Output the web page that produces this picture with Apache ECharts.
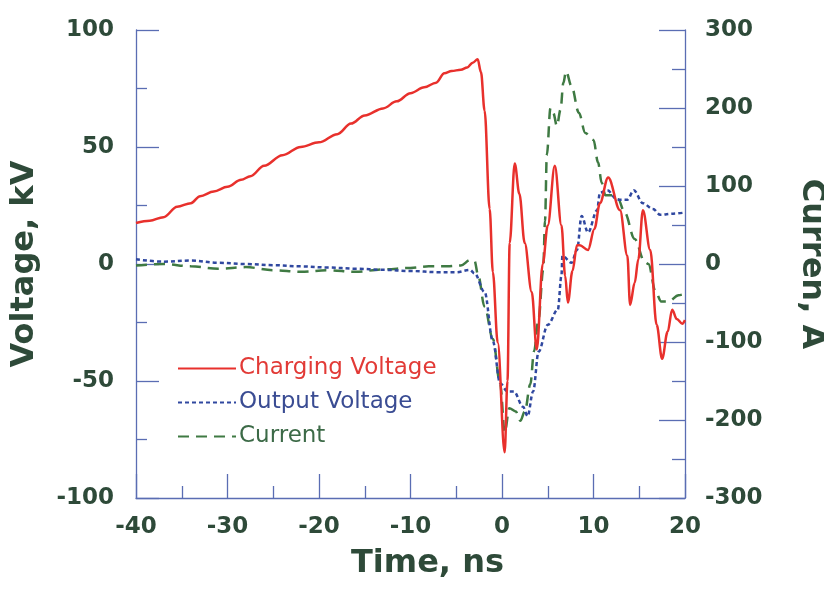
<!DOCTYPE html>
<html>
<head>
<meta charset="utf-8">
<title>Charging voltage, output voltage and current</title>
<script src="https://cdn.jsdelivr.net/npm/echarts@6/dist/echarts.min.js"></script>
<style>
  html, body { margin: 0; padding: 0; background: #ffffff; overflow: hidden; }
  #chart { width: 824px; height: 593px; }
</style>
</head>
<body>
<div id="chart"></div>
<script>
// Time axis ticks (ns) and the two value axes
const timeTicks = [-40, -30, -20, -10, 0, 10, 20];
const voltageTicks = [-100, -50, 0, 50, 100];
const currentTicks = [-300, -200, -100, 0, 100, 200, 300];

// Charging voltage, kV
const chargingTime = [-40, -38.5, -37, -35.5, -34, -33, -31.5, -30, -28.5, -27.5, -26, -24, -22, -20, -18, -16.5, -15, -13, -11.5, -10,
  -8.5, -7.2, -6.3, -5.5, -4.5, -3.8, -3.2, -2.66, -2.3, -1.9, -1.35, -1.0, -0.47, 0.29, 0.6, 0.84, 1.39, 1.9, 2.48, 3.25,
  3.8, 4.45, 5.0, 5.77, 6.5, 6.9, 7.2, 7.7, 8.2, 8.5, 9.4, 10.1, 10.7, 11.6, 12.9, 13.7, 14.0, 14.5, 14.9, 15.4,
  16.2, 16.9, 17.5, 18.1, 18.6, 19.1, 19.7, 20];
const chargingVoltage = [17.5, 18.5, 20, 24.5, 26, 29, 31, 33, 36, 37.5, 42, 46.5, 50, 52, 55.5, 60, 63.5, 66.5, 69.5, 73,
  75.5, 77.5, 81.5, 82.5, 83, 84, 86, 87.5, 82, 65.5, 23.5, -3.5, -33.5, -80.5, -50, 9, 43, 30, 9, -12,
  -36.5, 0, 16.5, 42, 16.5, -5, -16.5, -3, 8, 8, 6, 15, 26, 37, 23, 3.5, -17.5, -8, 2, 23,
  6, -26, -40.5, -29, -19.5, -23.5, -25.5, -24];

// Output voltage, kV
const outputTime = [-40, -37, -34, -31, -28, -25, -22, -19, -16, -13, -10, -7, -5, -3.5, -3.0, -1.9, -1.0, -0.2, 0.6, 1.3,
  2.3, 2.8, 3.4, 4.0, 5.0, 6.1, 6.5, 6.6, 7.6, 8.2, 8.7, 9.4, 10.4, 10.7, 11.5, 12.6, 13.7, 14.4, 15.4, 16.5,
  17.3, 18.7, 20];
const outputVoltage = [2, 1, 1.5, 0.5, 0, -0.5, -1, -1.5, -2, -2.5, -3, -3.5, -3.5, -2.5, -4, -12, -33, -51, -54.5, -54.5,
  -61, -65, -54.5, -37.5, -26, -19.5, -5, 3.5, 0.5, 6, 20.5, 13.5, 23, 30.5, 31.5, 27.5, 27.5, 31.5, 26, 23.5,
  21, 21.5, 22];

// Current, A
const currentTime = [-40, -37, -34, -31, -28, -25, -22, -19, -16, -13, -10, -8, -6, -4.5, -3.5, -3.0, -2.6, -1.9, -1.0, -0.2,
  0.3, 0.8, 1.5, 2.0, 2.5, 3.1, 3.5, 4.0, 4.5, 4.7, 4.9, 5.3, 5.6, 6.0, 6.4, 6.7, 7.0, 7.6, 8.4, 9.1,
  10.0, 10.5, 10.9, 11.3, 12.0, 12.7, 13.4, 14.5, 15.6, 16.0, 16.8, 17.4, 18.2, 19.3, 20];
const currentValues = [-2, 0, -3, -6, -4, -8, -10, -8, -10, -7, -5, -3, -3, -2, 5, 4, -15, -55, -96, -154,
  -216, -185, -189, -201, -189, -154, -112, -70, -8, 55, 140, 200, 194, 177, 198, 232, 247, 228, 194, 168,
  159, 130, 104, 88, 88, 83, 66, 32, 2.5, 0, -36, -48, -48, -40, -38];

const seriesNames = ['Charging Voltage', 'Output Voltage', 'Current'];

const pairs = (xs, ys) => xs.map((x, i) => [x, ys[i]]);

const inkColor = '#2e4a39';
const axisColor = '#5a6db3';
const redColor = '#e8302c';
const blueColor = '#3048a0';
const greenColor = '#3f7a43';
const tickFont = { fontFamily: 'DejaVu Sans', fontWeight: 'bold', fontSize: 23, color: inkColor };
const titleFont = { fontFamily: 'DejaVu Sans', fontWeight: 'bold', fontSize: 32, color: inkColor };

const chart = echarts.init(document.getElementById('chart'), null, { renderer: 'canvas', width: 824, height: 593 });

chart.setOption({
  animation: false,
  backgroundColor: '#ffffff',
  grid: { left: 136, right: 139, top: 30, bottom: 95, containLabel: false, outerBoundsMode: 'none' },
  legend: {
    orient: 'vertical',
    left: 177,
    top: 357,
    padding: 0,
    itemWidth: 58,
    itemHeight: 14,
    itemGap: 11,
    selectedMode: false,
    itemStyle: { opacity: 0 },
    textStyle: { fontFamily: 'DejaVu Sans', fontSize: 23, padding: [0, 0, 0, -2] },
    data: [
      { name: seriesNames[0], textStyle: { color: '#e23a36' } },
      { name: seriesNames[1], textStyle: { color: '#3a4c93' } },
      { name: seriesNames[2], textStyle: { color: '#3c6a47' } }
    ]
  },
  xAxis: {
    type: 'value',
    min: timeTicks[0],
    max: timeTicks[timeTicks.length - 1],
    interval: timeTicks[1] - timeTicks[0],
    name: 'Time, ns',
    nameLocation: 'middle',
    nameGap: 50,
    nameTextStyle: Object.assign({}, titleFont, { padding: [0, 0, 0, 34] }),
    axisLine: { show: true, onZero: false, lineStyle: { color: axisColor, width: 1.3 } },
    axisTick: { show: true, inside: true, length: 24, lineStyle: { color: axisColor, width: 1.3 } },
    minorTick: { show: true, splitNumber: 2, length: 12, lineStyle: { color: axisColor, width: 1.3 } },
    axisLabel: Object.assign({ margin: 18 }, tickFont),
    splitLine: { show: false }
  },
  yAxis: [
    {
      type: 'value',
      position: 'left',
      min: voltageTicks[0],
      max: voltageTicks[voltageTicks.length - 1],
      interval: voltageTicks[1] - voltageTicks[0],
      name: 'Voltage, kV',
      nameLocation: 'middle',
      nameRotate: 90,
      nameGap: 95,
      nameTextStyle: titleFont,
      axisLine: { show: true, onZero: false, lineStyle: { color: axisColor, width: 1.3 } },
      axisTick: { show: true, inside: true, length: 23, lineStyle: { color: axisColor, width: 1.3 } },
      minorTick: { show: true, splitNumber: 2, length: 11, lineStyle: { color: axisColor, width: 1.3 } },
      axisLabel: Object.assign({ margin: 22 }, tickFont),
      splitLine: { show: false }
    },
    {
      type: 'value',
      position: 'right',
      min: currentTicks[0],
      max: currentTicks[currentTicks.length - 1],
      interval: currentTicks[1] - currentTicks[0],
      name: 'Curren, A',
      nameLocation: 'middle',
      nameRotate: -90,
      nameGap: 110,
      nameTextStyle: titleFont,
      axisLine: { show: true, onZero: false, lineStyle: { color: axisColor, width: 1.3 } },
      axisTick: { show: true, inside: true, length: 26, lineStyle: { color: axisColor, width: 1.3 } },
      minorTick: { show: true, splitNumber: 2, length: 13, lineStyle: { color: axisColor, width: 1.3 } },
      axisLabel: Object.assign({ margin: 20 }, tickFont),
      splitLine: { show: false }
    }
  ],
  series: [
    {
      name: seriesNames[0],
      type: 'line',
      yAxisIndex: 0,
      data: pairs(chargingTime, chargingVoltage),
      symbol: 'none',
      smooth: 0.35,
      smoothMonotone: 'x',
      z: 4,
      lineStyle: { color: redColor, width: 2.5, type: 'solid' },
      itemStyle: { color: redColor }
    },
    {
      name: seriesNames[1],
      type: 'line',
      yAxisIndex: 0,
      data: pairs(outputTime, outputVoltage),
      symbol: 'none',
      smooth: 0.35,
      smoothMonotone: 'x',
      z: 3,
      lineStyle: { color: blueColor, width: 2.5, type: [4, 3] },
      itemStyle: { color: blueColor }
    },
    {
      name: seriesNames[2],
      type: 'line',
      yAxisIndex: 1,
      data: pairs(currentTime, currentValues),
      symbol: 'none',
      smooth: 0.35,
      smoothMonotone: 'x',
      z: 2,
      lineStyle: { color: greenColor, width: 2.5, type: [11, 7] },
      itemStyle: { color: greenColor }
    }
  ]
});
</script>
</body>
</html>
